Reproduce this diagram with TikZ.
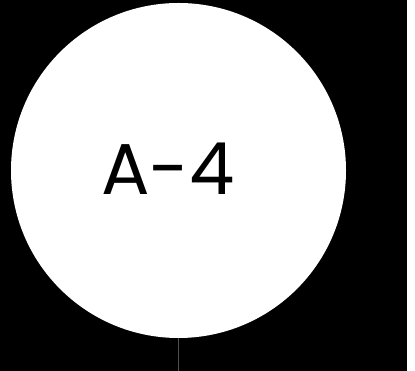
\documentclass[tikz,border=0pt]{standalone}
\usepackage{fontspec}
\usepackage{tikz}
\usetikzlibrary{positioning,calc}
\setmainfont{Poppins}
\definecolor{stemgray}{RGB}{80,80,80}

\begin{document}
\begin{tikzpicture}[x=1pt, y=1pt, ball/.style={circle, fill=white, minimum size=335pt, inner sep=0pt}, stem/.style={draw=stemgray, line width=1pt}]
\useasboundingbox (0,0) rectangle (415,371);
\fill[black] (0,0) rectangle (407,371);
\node[ball] (a4) at (178.5,200.5) {};
\node[anchor=base west, inner sep=0pt, font=\fontsize{72}{80}\selectfont] (lbl) at (101,176) {A-4};
\coordinate (foot) at (178.5,0);
\draw[stem] (a4.south) -- (foot);
\end{tikzpicture}
\end{document}
